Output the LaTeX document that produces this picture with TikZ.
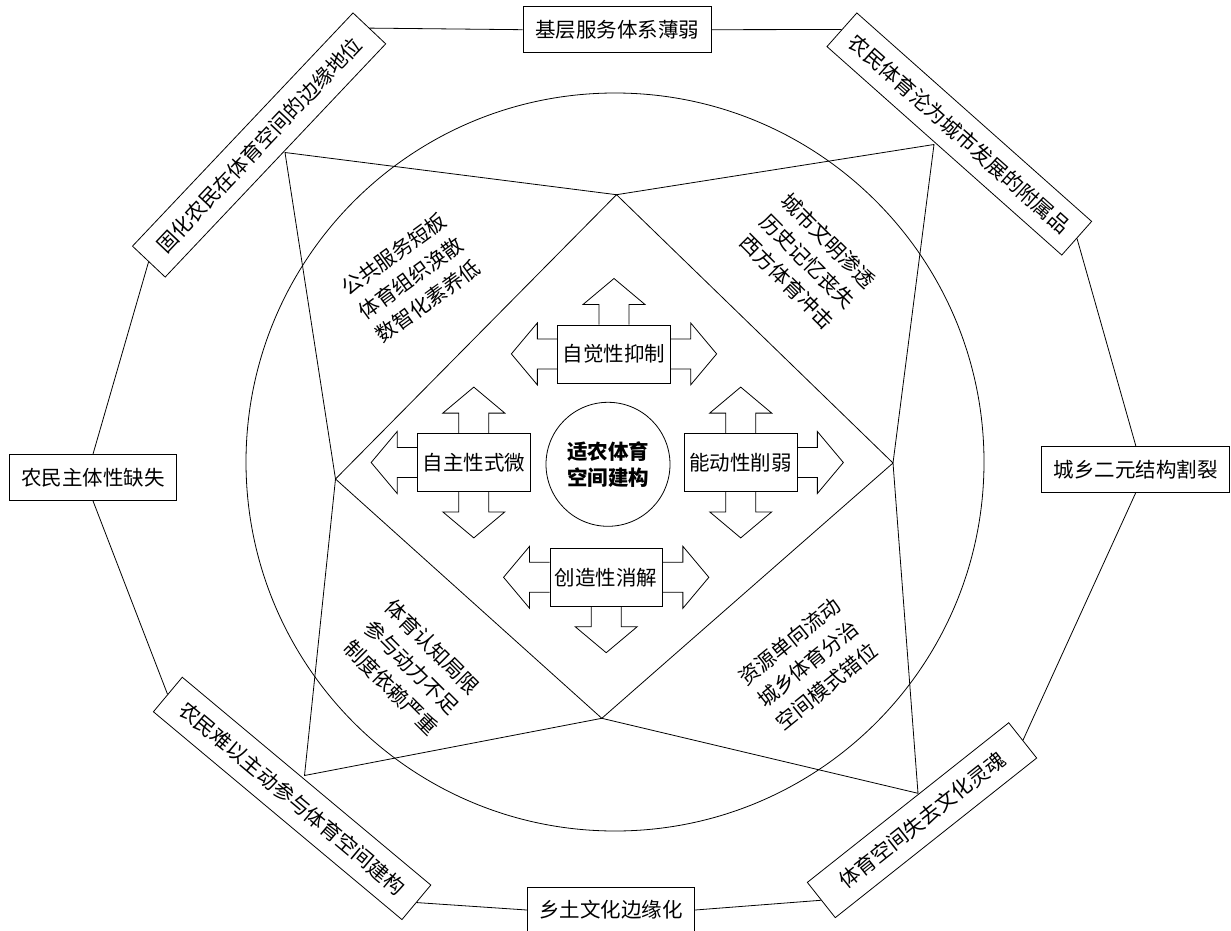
\documentclass[tikz,border=0pt]{standalone}
\usepackage{fontspec}
\setmainfont{Noto Sans CJK SC}
\begin{document}
\begin{tikzpicture}[x=1pt, y=-1pt, line width=0.8pt,
    txt/.style={font=\fontsize{20.5}{27}\selectfont},
    outbox/.style={draw, txt, inner xsep=12pt, minimum height=46pt},
    tiltbox/.style={draw, txt, inner xsep=0pt, minimum height=45pt},
    corebox/.style={draw, txt, inner xsep=5pt, minimum height=58pt},
    note/.style={font=\fontsize{20.5}{29}\selectfont, align=center},
    blockarrow/.pic={\draw (0,-15) -- (20,-15) -- (20,-31) -- (46,0) -- (20,31) -- (20,15) -- (0,15);}]
    \useasboundingbox (0,0) rectangle (1231,931);

    % outer ring of problems
    \node[outbox] (top) at (617,29.7) {基层服务体系薄弱};
    \node[outbox] (left) at (93,477.5) {农民主体性缺失};
    \node[outbox] (right) at (1135.8,469.2) {城乡二元结构割裂};
    \node[outbox] (bottom) at (611,910) {乡土文化边缘化};
    \node[tiltbox, rotate=46.6, minimum width=321pt] (TL) at (259.1,145) {固化农民在体育空间的边缘地位};
    \node[tiltbox, rotate=-41.6, minimum width=314pt] (TR) at (959.3,134) {农民体育沦为城市发展的附属品};
    \node[tiltbox, rotate=-39.9, minimum width=324pt] (BL) at (292.1,798.4) {农民难以主动参与体育空间建构};
    \node[tiltbox, rotate=38.4, minimum width=257pt] (BR) at (922,820.2) {体育空间失去文化灵魂};

    \draw (TL.east) -- (top.west);
    \draw (top.east) -- (TR.west);
    \draw (TR.east) -- (right.north);
    \draw (right.south) -- (BR.east);
    \draw (BR.west) -- (bottom.east);
    \draw (bottom.west) -- (BL.east);
    \draw (BL.west) -- (left.south);
    \draw (left.north) -- (TL.west);

    \draw (615,462) circle (369);

    % star and diamond
    \coordinate (S1) at (285,152.5);
    \coordinate (S2) at (934,144.5);
    \coordinate (S3) at (918,793.3);
    \coordinate (S4) at (304.5,775.5);
    \coordinate (D1) at (616.5,194.7);
    \coordinate (D2) at (893,463);
    \coordinate (D3) at (601.8,718.3);
    \coordinate (D4) at (335.5,479);
    \draw (S1) -- (D1) -- (S2) -- (D2) -- (S3) -- (D3) -- (S4) -- (D4) -- cycle;
    \draw (D1) -- (D2) -- (D3) -- (D4) -- cycle;

    \node[note, rotate=36] (n1) at (411,278) {公共服务短板\\体育组织涣散\\数智化素养低};
    \node[note, rotate=-45] (n2) at (808,261) {城市文明渗透\\历史记忆丧失\\西方体育冲击};
    \node[note, rotate=-45] (n3) at (412,667) {体育认知局限\\参与动力不足\\制度依赖严重};
    \node[note, rotate=39] (n4) at (808,664) {资源单向流动\\城乡体育分治\\空间模式错位};

    % core
    \node[draw, circle, minimum size=124pt, inner sep=0pt, align=center,
          font=\fontsize{20.5}{26}\selectfont\bfseries] (hub) at (608,464.3) {适农体育\\空间建构};
    \node[corebox] (c1) at (614,353.9) {自觉性抑制};
    \node[corebox] (c2) at (473.8,462.5) {自主性式微};
    \node[corebox] (c3) at (740.7,462.5) {能动性削弱};
    \node[corebox] (c4) at (606.2,577.3) {创造性消解};

    \pic[rotate=90] at (c1.north) {blockarrow};
    \pic[rotate=180] at (c1.west) {blockarrow};
    \pic at (c1.east) {blockarrow};
    \pic[rotate=90] at (c2.north) {blockarrow};
    \pic[rotate=-90] at (c2.south) {blockarrow};
    \pic[rotate=180] at (c2.west) {blockarrow};
    \pic[rotate=90] at (c3.north) {blockarrow};
    \pic[rotate=-90] at (c3.south) {blockarrow};
    \pic at (c3.east) {blockarrow};
    \pic[rotate=180] at (c4.west) {blockarrow};
    \pic at (c4.east) {blockarrow};
    \pic[rotate=-90] at (c4.south) {blockarrow};
\end{tikzpicture}
\end{document}
